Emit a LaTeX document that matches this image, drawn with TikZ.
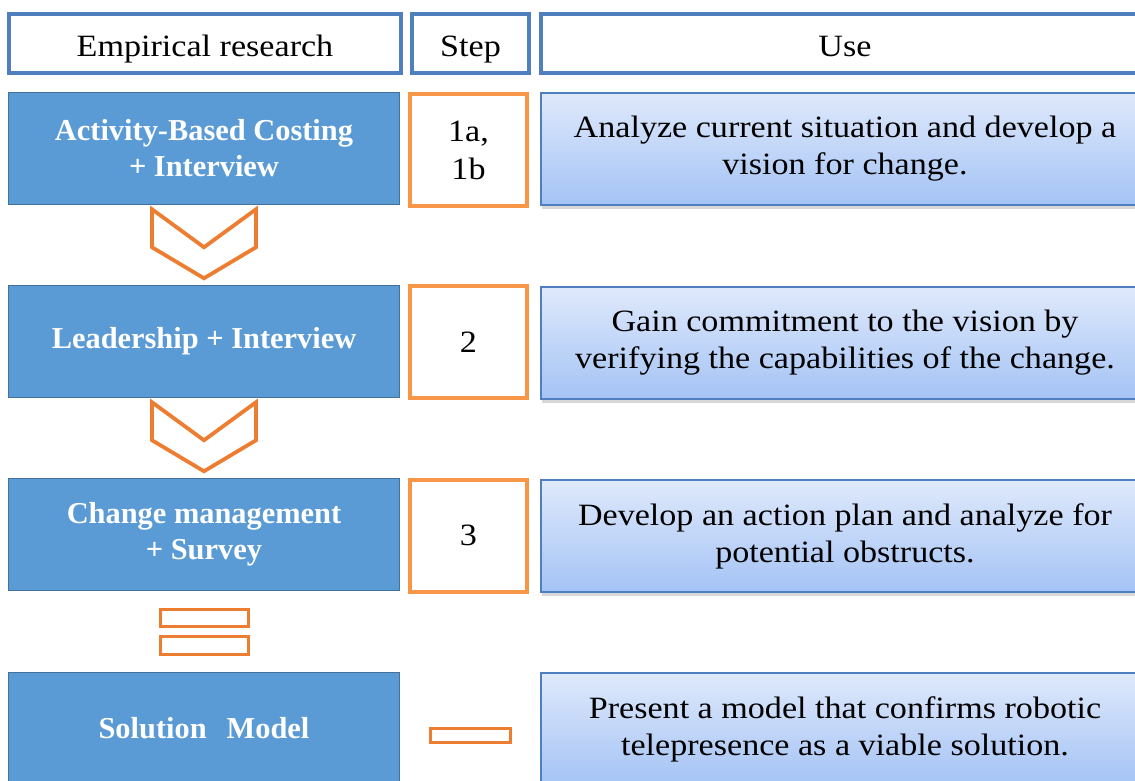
\documentclass[tikz,border=0pt]{standalone}
\usepackage{fontspec}
\setmainfont{Liberation Serif}
\newfontfamily\camb[FakeStretch=1.1]{Liberation Serif}
\usetikzlibrary{shadows,calc}
\definecolor{hdrblue}{HTML}{4F7FBF}
\definecolor{bluefill}{HTML}{5B9BD5}
\definecolor{bluebd}{HTML}{41719C}
\definecolor{orangeL}{HTML}{F79646}
\definecolor{orangeD}{HTML}{ED7D31}
\definecolor{useTop}{HTML}{DFE9FB}
\definecolor{useBot}{HTML}{A4C3F5}
\tikzset{
  hdr/.style={draw=hdrblue, line width=4pt, fill=white, minimum height=59pt, inner sep=0pt,
    text height=31pt, text depth=5pt,
    font=\camb\fontsize{31}{37}\selectfont},
  bluebox/.style={draw=bluebd, fill=bluefill, line width=1.5pt, minimum width=391pt,
    minimum height=112pt, text=white, align=center, inner sep=0pt,
    font=\bfseries\fontsize{30.4}{36}\selectfont},
  stepbox/.style={draw=orangeL, line width=4pt, fill=white, minimum width=117pt,
    minimum height=112pt, align=center, inner sep=0pt,
    font=\camb\fontsize{31}{38}\selectfont},
  usebox/.style={draw=hdrblue, line width=1.5pt, top color=useTop, bottom color=useBot,
    minimum width=608pt, minimum height=112pt, align=center, inner sep=0pt,
    drop shadow={shadow xshift=1pt, shadow yshift=-3.5pt, opacity=0.3},
    font=\camb\fontsize{31}{37}\selectfont},
  chevline/.style={draw=orangeD, line width=3.8pt, line join=miter},
  eqline/.style={draw=orangeD, line width=3.5pt},
  chev/.pic={\path[chevline] (-52,0) -- (0,38) -- (52,0) -- (52,38) -- (0,69) -- (-52,38) -- cycle;}
}
\begin{document}
\begin{tikzpicture}[x=1pt,y=-1pt]
\clip (0,0) rectangle (1135,780);
\fill[white] (0,0) rectangle (1135,780);
% header
\node[hdr, minimum width=392pt] (h1) at (205,43.5) {Empirical research};
\node[hdr, minimum width=117pt] (h2) at (470.5,43.5) {Step};
\node[hdr, minimum width=608pt] (h3) at (845,43.5) {Use};
% use boxes
\node[usebox] (u1) at (845,149) {Analyze current situation and develop a\\vision for change.};
\node[usebox] (u2) at (845,343) {Gain commitment to the vision by\\verifying the capabilities of the change.};
\node[usebox] (u3) at (845,536) {Develop an action plan and analyze for\\potential obstructs.};
\node[usebox] (u4) at (845,729) {Present a model that confirms robotic\\telepresence as a viable solution.};
% blue boxes
\node[bluebox] (b1) at (204,148.5) {Activity-Based Costing\\+ Interview};
\node[bluebox] (b2) at (204,341.5) {Leadership + Interview};
\node[bluebox] (b3) at (204,534.5) {Change management\\+ Survey};
\node[bluebox] (b4) at (204,728.5) {Solution\hspace{20pt}Model};
% step boxes
\node[stepbox] (s1) at (468.5,150) {1a,\\1b};
\node[stepbox] (s2) at (468.5,342) {2};
\node[stepbox] (s3) at (468.5,535.5) {3};
% chevrons
\pic at ($(b1.south)+(0,4)$) {chev};
\pic at ($(b2.south)+(0,4)$) {chev};
% equals
\path[eqline] (160.5,609.5) rectangle (248.5,626.5);
\path[eqline] (160.5,636.5) rectangle (248.5,654.5);
% minus
\path[eqline] (430.5,728.5) rectangle (510.5,742.5);
\end{tikzpicture}
\end{document}
